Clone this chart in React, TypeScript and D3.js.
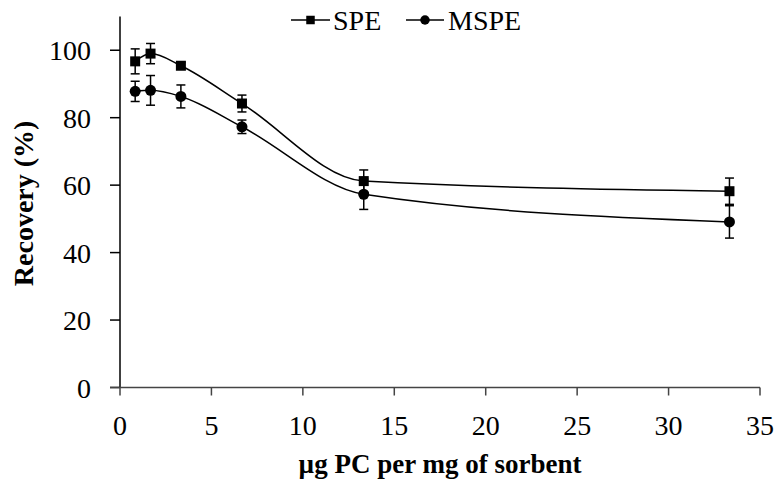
import React from 'react';
import * as d3 from 'd3';

// µg PC per mg of sorbent
const xValues = [0.83, 1.67, 3.33, 6.67, 13.33, 33.33];
const speValues = [96.7, 99.0, 95.4, 84.2, 61.2, 58.2];
const speErrors = [3.7, 3.0, 1.0, 2.5, 3.3, 3.9];
const mspeValues = [87.8, 88.1, 86.3, 77.3, 57.3, 49.1];
const mspeErrors = [3.0, 4.4, 3.4, 2.0, 4.5, 4.8];
const xTicks = [0, 5, 10, 15, 20, 25, 30, 35];
const yTicks = [0, 20, 40, 60, 80, 100];
const seriesNames = ['SPE', 'MSPE'];

const FONT = 'Liberation Serif';

const x = d3.scaleLinear().domain([0, 35]).range([120, 760]);
const y = d3.scaleLinear().domain([0, 110]).range([387.5, 16.5]);

const line = d3.line<number>()
  .x((_, i) => x(xValues[i]))
  .y(d => y(d))
  .curve(d3.curveMonotoneX);

const series = [
  { name: seriesNames[0], values: speValues, errors: speErrors, shape: 'square' },
  { name: seriesNames[1], values: mspeValues, errors: mspeErrors, shape: 'circle' },
];

const Marker: React.FC<{ shape: string; cx: number; cy: number; size: number }> = ({ shape, cx, cy, size }) =>
  shape === 'square'
    ? <rect x={cx - size / 2} y={cy - size / 2} width={size} height={size} fill="#000" />
    : <circle cx={cx} cy={cy} r={size / 2 + 0.5} fill="#000" />;

const App: React.FC = () => {
  const legendItems = [
    { s: series[0], x0: 291, x1: 330, tx: 333 },
    { s: series[1], x0: 406, x1: 444, tx: 448 },
  ];
  const ly = 20;
  return (
    <svg width={779} height={481} fontFamily={FONT}
      style={{ position: 'absolute', left: 0, top: 0, display: 'block', background: '#fff' }}>
      <style>{`text { font-family: 'Liberation Serif', 'Times New Roman', Tinos !important; }`}</style>
      {/* y axis */}
      <line x1={x(0)} x2={x(0)} y1={y(110)} y2={y(0)} stroke="#000" strokeWidth={1.5} />
      {yTicks.map(t => (
        <g key={t}>
          <line x1={x(0) - 10} x2={x(0)} y1={y(t)} y2={y(t)} stroke="#000" strokeWidth={1.5} />
          <text x={91} y={y(t)} dy="0.36em" textAnchor="end" fontSize={28} fontFamily={FONT}>{t}</text>
        </g>
      ))}
      {/* x axis */}
      <line x1={x(0) - 10} x2={x(35)} y1={y(0)} y2={y(0)} stroke="#444" strokeWidth={1.5} />
      {xTicks.map(t => (
        <g key={t}>
          <line x1={x(t)} x2={x(t)} y1={y(0)} y2={y(0) + 8} stroke="#444" strokeWidth={1.5} />
          <text x={x(t)} y={435} textAnchor="middle" fontSize={28} fontFamily={FONT}>{t}</text>
        </g>
      ))}
      {/* titles */}
      <text x={440} y={473} textAnchor="middle" fontSize={27} fontWeight="bold"
        fontFamily={FONT}>µg PC per mg of sorbent</text>
      <text transform={`translate(33,${y(54.6)}) rotate(-90)`} textAnchor="middle" fontSize={28}
        fontWeight="bold" fontFamily={FONT}>Recovery (%)</text>
      {/* series */}
      {series.map(s => (
        <g key={s.name}>
          <path d={line(s.values) || ''} fill="none" stroke="#000" strokeWidth={1.5} />
          {s.values.map((v, i) => {
            const cx = x(xValues[i]);
            const e = s.errors[i];
            return (
              <g key={i}>
                <line x1={cx} x2={cx} y1={y(v + e)} y2={y(v - e)} stroke="#000" strokeWidth={1.5} />
                <line x1={cx - 4.5} x2={cx + 4.5} y1={y(v + e)} y2={y(v + e)} stroke="#000" strokeWidth={1.5} />
                <line x1={cx - 4.5} x2={cx + 4.5} y1={y(v - e)} y2={y(v - e)} stroke="#000" strokeWidth={1.5} />
                <Marker shape={s.shape} cx={cx} cy={y(v)} size={10} />
              </g>
            );
          })}
        </g>
      ))}
      {/* legend */}
      {legendItems.map(it => (
        <g key={it.s.name}>
          <line x1={it.x0} x2={it.x1} y1={ly} y2={ly} stroke="#000" strokeWidth={1.5} />
          <Marker shape={it.s.shape} cx={(it.x0 + it.x1) / 2} cy={ly} size={8.5} />
          <text x={it.tx} y={ly + 10} fontSize={28} fontFamily={FONT}>{it.s.name}</text>
        </g>
      ))}
    </svg>
  );
};

export default App;
